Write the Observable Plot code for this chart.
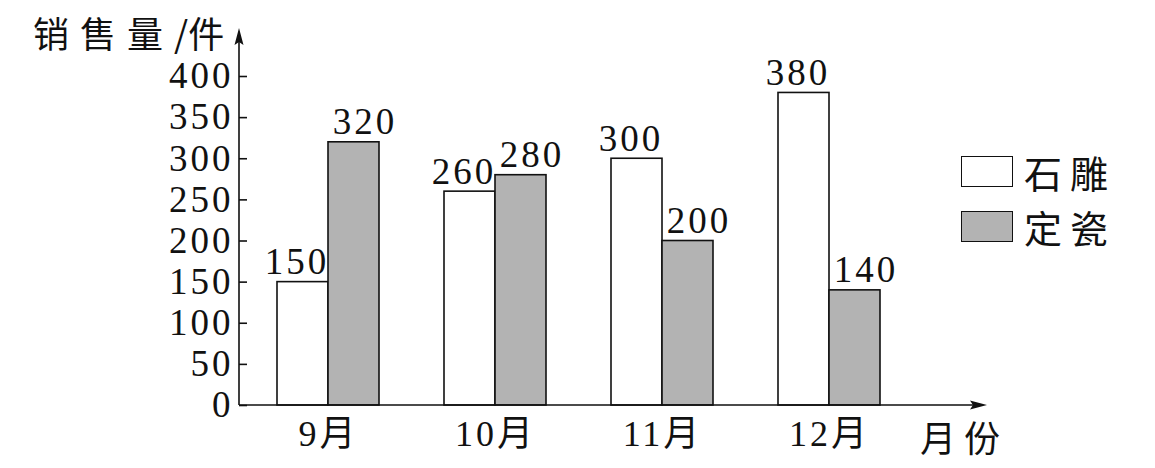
<!DOCTYPE html>
<html>
<head>
<meta charset="utf-8">
<script src="https://cdn.jsdelivr.net/npm/d3@7"></script>
<script src="https://cdn.jsdelivr.net/npm/@observablehq/plot@0.6"></script>
<style>
  body { margin: 0; background: #fff; }
  #wrap { position: relative; width: 1155px; height: 468px; font-family: "Liberation Serif", "Noto Sans CJK SC", serif; }
  #wrap svg text { letter-spacing: 3px; }
  .ov { position: absolute; color: #111; font-family: "Noto Sans CJK SC", sans-serif; white-space: nowrap; line-height: 1; }
  .lg-box { position: absolute; width: 50px; height: 29px; border: 1.6px solid #111; }
</style>
</head>
<body>
<div id="wrap"></div>
<script>
// ---- data ----
const months = ["9月", "10月", "11月", "12月"];
const seriesNames = ["石雕", "定瓷"];
const shidiao = [150, 260, 300, 380];
const dingci = [320, 280, 200, 140];
const yTicks = [0, 50, 100, 150, 200, 250, 300, 350, 400];
const yTitle = "销售量/件";
const xTitle = "月份";

const rows = months.flatMap((m, i) => [
  {month: m, series: seriesNames[0], value: shidiao[i]},
  {month: m, series: seriesNames[1], value: dingci[i]}
]);

const W = 1155, H = 468;
const gray = "#b3b3b3";
const bw = 102;          // band width (pair of bars)
const half = bw / 2;
const numFont = "Liberation Serif, Times New Roman, serif";
const mixFont = "Liberation Serif, Noto Sans CJK SC, serif";

// axis lines with arrowheads drawn from the plot dimensions
function axesWithArrows(index, scales, values, dims) {
  const g = d3.create("svg:g");
  const x0 = dims.marginLeft, y0 = dims.height - dims.marginBottom;
  const xEnd = dims.width - dims.marginRight, yEnd = dims.marginTop;
  g.append("path").attr("d", `M${x0},${y0}H${xEnd - 6}M${x0},${y0}V${yEnd + 6}`)
    .attr("stroke", "#111").attr("stroke-width", 1.6).attr("fill", "none");
  g.append("path").attr("d", `M${xEnd},${y0}L${xEnd - 17},${y0 - 4.5}L${xEnd - 14},${y0}L${xEnd - 17},${y0 + 4.5}Z`).attr("fill", "#111");
  g.append("path").attr("d", `M${x0},${yEnd}L${x0 - 4.5},${yEnd + 17}L${x0},${yEnd + 14}L${x0 + 4.5},${yEnd + 17}Z`).attr("fill", "#111");
  return g.node();
}

const chart = Plot.plot({
  width: W,
  height: H,
  marginLeft: 239,
  marginRight: 168,
  marginTop: 28,
  marginBottom: 63,
  x: {domain: months, range: [277, 880], paddingInner: 65 / 167, paddingOuter: 0},
  y: {domain: [0, 400], range: [405, 76]},
  style: {background: "white", color: "#111", overflow: "visible"},
  marks: [
    Plot.barY(rows.filter(d => d.series === seriesNames[0]), {
      x: "month", y: "value", fill: "white", stroke: "#111", strokeWidth: 1.6, insetRight: half
    }),
    Plot.barY(rows.filter(d => d.series === seriesNames[1]), {
      x: "month", y: "value", fill: gray, stroke: "#111", strokeWidth: 1.6, insetLeft: half
    }),
    Plot.text(rows.filter(d => d.series === seriesNames[0]), {
      x: "month", y: "value", text: d => String(d.value), dx: -half / 2 - 6, dy: -8,
      lineAnchor: "bottom", fontSize: 37, fontFamily: numFont, fill: "#111"
    }),
    Plot.text(rows.filter(d => d.series === seriesNames[1]), {
      x: "month", y: "value", text: d => String(d.value), dx: half / 2 + 11, dy: -8,
      lineAnchor: "bottom", fontSize: 37, fontFamily: numFont, fill: "#111"
    }),
    Plot.axisY({
      ticks: yTicks, anchor: "left", tickSize: -8, tickPadding: 14,
      fontSize: 37, fontFamily: numFont, label: null, tickFormat: d => String(d), strokeWidth: 1.6
    }),
    Plot.axisX({
      anchor: "bottom", tickSize: 0, tickPadding: 15, fontSize: 36, fontFamily: mixFont, label: null
    }),
    axesWithArrows
  ]
});

const wrap = document.getElementById("wrap");
wrap.appendChild(chart);

function overlay(html, left, top, css) {
  const d = document.createElement("div");
  d.className = "ov";
  d.innerHTML = html;
  d.style.left = left + "px";
  d.style.top = top + "px";
  Object.assign(d.style, css || {});
  wrap.appendChild(d);
  return d;
}
// axis titles
overlay(`<span style="letter-spacing:11px">${yTitle.slice(0, 3)}</span>${yTitle.slice(3)}`, 33, 14, {fontSize: "36px"});
overlay(xTitle, 920, 418, {fontSize: "36px", letterSpacing: "8px"});

// legend
const lg = [{name: seriesNames[0], fill: "white", top: 156}, {name: seriesNames[1], fill: gray, top: 211}];
lg.forEach(l => {
  const b = document.createElement("div");
  b.className = "lg-box";
  b.style.left = "961px";
  b.style.top = l.top + "px";
  b.style.background = l.fill;
  wrap.appendChild(b);
  overlay(l.name, 1024, l.top - 3, {fontSize: "38px", letterSpacing: "8px"});
});
</script>
</body>
</html>
